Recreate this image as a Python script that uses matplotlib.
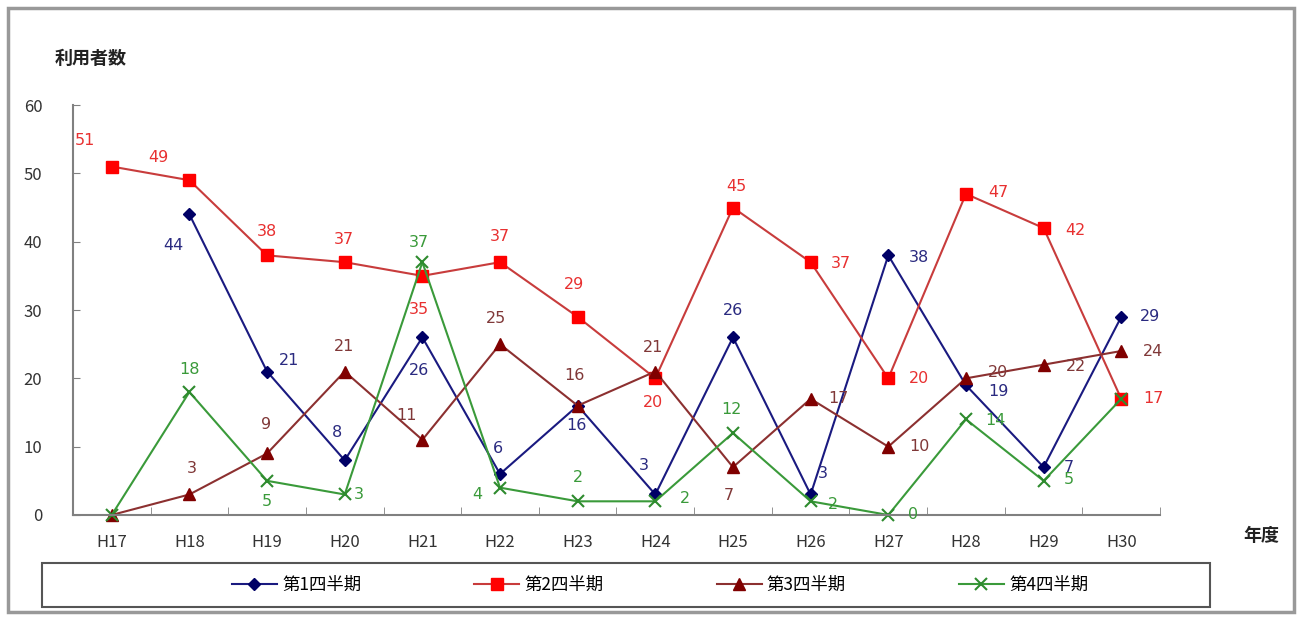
import numpy as np
import matplotlib.pyplot as plt
from matplotlib.patches import Rectangle

plt.rcParams['font.family'] = ['Noto Sans CJK JP', 'DejaVu Sans']

years = ["H17", "H18", "H19", "H20", "H21", "H22", "H23", "H24", "H25",
         "H26", "H27", "H28", "H29", "H30"]
q1 = [np.nan, 44, 21, 8, 26, 6, 16, 3, 26, 3, 38, 19, 7, 29]
q2 = [51, 49, 38, 37, 35, 37, 29, 20, 45, 37, 20, 47, 42, 17]
q3 = [0, 3, 9, 21, 11, 25, 16, 21, 7, 17, 10, 20, 22, 24]
q4 = [0, 18, 5, 3, 37, 4, 2, 2, 12, 2, 0, 14, 5, 17]
names = ["第1四半期", "第2四半期", "第3四半期", "第4四半期"]

# label offsets in pixels (None = no label)
off1 = [None, (-16, -31), (22, 11), (-8, 28), (-3, -33), (-2, 25), (-1, -20),
        (-12, 29), (0, 27), (12, 21), (31, -2), (32, -6), (25, 0), (29, 0)]
off2 = [(-27, 26), (-31, 23), (0, 24), (-1, 23), (-3, -34), (0, 26), (-4, 32),
        (-2, -24), (3, 21), (30, -1), (31, 0), (32, 1), (32, -2), (32, 0)]
off3 = [None, (2, 26), (-1, 29), (-1, 25), (-16, 24), (-4, 26), (-3, 30),
        (-2, 24), (-4, -28), (28, 0), (31, 0), (32, 6), (32, -2), (32, 0)]
off4 = [None, (0, 23), (0, -21), (14, 0), (-3, 20), (-23, -7), (0, 24), (30, 3),
        (-2, 23), (22, -3), (25, 0), (29, -1), (25, 1), None]

styles = [
    dict(vals=q1, offs=off1, color="#1a1a80", mfc="#000066", marker="D", ms=6.5, tc="#2a2a80"),
    dict(vals=q2, offs=off2, color="#c83c3c", mfc="#ff0000", marker="s", ms=8.5, tc="#e83030"),
    dict(vals=q3, offs=off3, color="#8c3030", mfc="#800000", marker="^", ms=8, tc="#803838"),
    dict(vals=q4, offs=off4, color="#3a9a3a", mfc="#2e8b2e", marker="x", ms=8, tc="#3a9a3a"),
]

fig = plt.figure(figsize=(13.02, 6.18), dpi=100)
ax = fig.add_axes([0.056, 0.1667, 0.835, 0.6633])
x = np.arange(len(years))

handles = []
for name, st in zip(names, styles):
    h, = ax.plot(x, st["vals"], color=st["color"], lw=1.5, marker=st["marker"],
                 markersize=st["ms"], markerfacecolor=st["mfc"],
                 markeredgecolor=st["mfc"], markeredgewidth=1.5 if st["marker"] == "x" else 1,
                 label=name, clip_on=False)
    handles.append(h)
    for xi, v, o in zip(x, st["vals"], st["offs"]):
        if o is None or np.isnan(v):
            continue
        ax.annotate(f"{int(v)}", (xi, v), xytext=o, textcoords="offset pixels",
                    ha="center", va="center", fontsize=11.5, color=st["tc"],
                    family="DejaVu Sans")

ax.set_xlim(-0.5, len(years) - 0.5)
ax.set_ylim(0, 60)
ax.set_yticks(range(0, 61, 10))
ax.set_xticks(x)
ax.set_xticklabels(years)
ax.set_xticks(np.arange(-0.5, len(years), 1), minor=True)
ax.tick_params(axis="x", which="major", length=0, pad=14, labelsize=12, labelcolor="#333333")
ax.tick_params(axis="x", which="minor", length=6, direction="in", color="#808080")
ax.tick_params(axis="y", length=5, direction="in", color="#808080", pad=22,
               labelsize=12, labelcolor="#333333")
for s in ["top", "right"]:
    ax.spines[s].set_visible(False)
for s in ["left", "bottom"]:
    ax.spines[s].set_color("#808080")
    ax.spines[s].set_linewidth(1.5)

fig.text(0.042, 0.906, "利用者数", fontsize=13, fontweight="bold", color="#222222",
         ha="left", va="center")
fig.text(0.969, 0.134, "年度", fontsize=13, fontweight="bold", color="#222222",
         ha="center", va="center")

# legend frame
fig.patches.append(Rectangle((0.032, 0.018), 0.897, 0.071, transform=fig.transFigure,
                             fill=False, edgecolor="#555555", lw=1.5))
fig.legend(handles=handles, loc="center", bbox_to_anchor=(0.507, 0.054), ncol=4,
           frameon=False, handlelength=2.6, columnspacing=6.5, fontsize=12.5,
           handletextpad=0.3)

# outer border
fig.patches.append(Rectangle((0.006, 0.01), 0.988, 0.977, transform=fig.transFigure,
                             fill=False, edgecolor="#999999", lw=2.5))

fig.savefig("out.png", dpi=100)
